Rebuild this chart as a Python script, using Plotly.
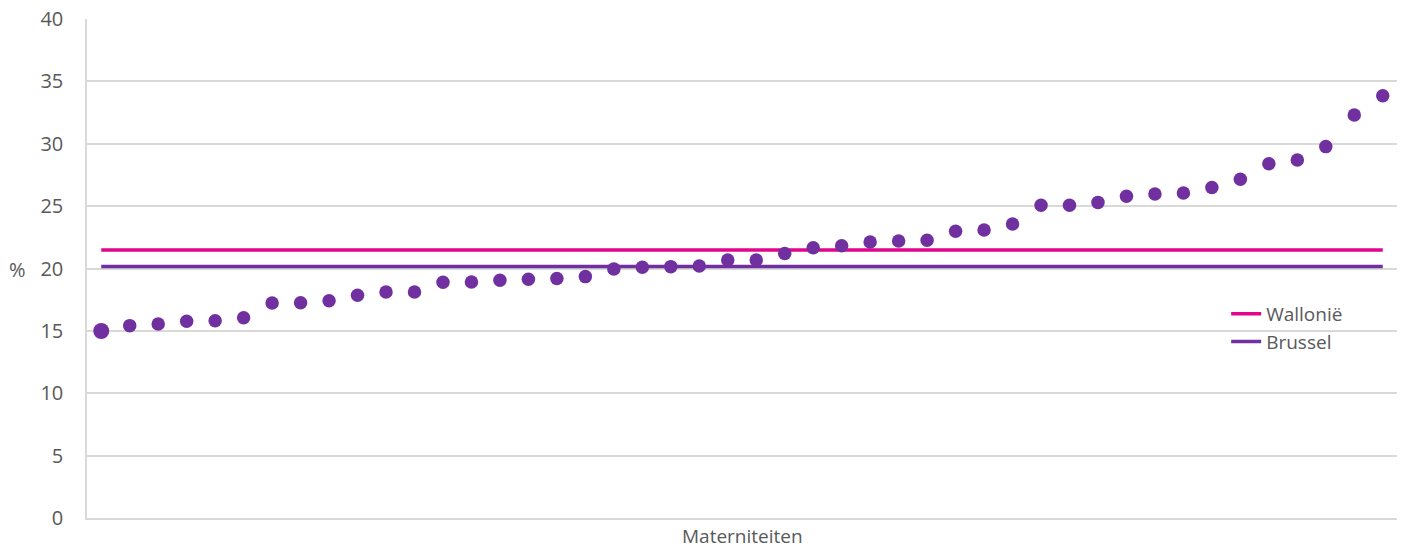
import plotly.graph_objects as go

maternities = list(range(1, 47))
values = [14.99, 15.42, 15.55, 15.77, 15.82, 16.06, 17.23, 17.26, 17.42, 17.85,
          18.12, 18.12, 18.9, 18.92, 19.05, 19.13, 19.19, 19.35, 19.96, 20.1,
          20.15, 20.2, 20.68, 20.68, 21.2, 21.67, 21.83, 22.13, 22.2, 22.26,
          22.98, 23.09, 23.57, 25.07, 25.07, 25.3, 25.8, 25.97, 26.05, 26.5,
          27.15, 28.4, 28.7, 29.77, 32.3, 33.85]
wallonie = 21.48
brussel = 20.16
y_ticks = [0, 5, 10, 15, 20, 25, 30, 35, 40]

FONT = "Open Sans"
GREY = "#595959"
PURPLE = "#7030A0"
MAGENTA = "#E0058C"

fig = go.Figure()
fig.add_trace(go.Scatter(x=maternities, y=[wallonie] * len(maternities), mode="lines",
                         name="Wallonië", line=dict(color=MAGENTA, width=3.5)))
fig.add_trace(go.Scatter(x=maternities, y=[brussel] * len(maternities), mode="lines",
                         name="Brussel", line=dict(color=PURPLE, width=3.5)))
sizes = [16] + [13.5] * (len(values) - 1)
fig.add_trace(go.Scatter(x=maternities, y=values, mode="markers", showlegend=False,
                         name="Materniteit",
                         marker=dict(color=PURPLE, size=sizes, opacity=1, line=dict(width=0))))

fig.update_layout(
    width=1403, height=549,
    margin=dict(l=87, r=6, t=19, b=31, autoexpand=False),
    paper_bgcolor="white", plot_bgcolor="white",
    font=dict(family=FONT, color=GREY, size=20),
    showlegend=True,
    legend=dict(x=0.8696, y=0.447, xanchor="left", yanchor="top",
                bgcolor="rgba(0,0,0,0)", font=dict(size=19, color=GREY),
                tracegroupgap=0),
    xaxis=dict(range=[0.5, 46.5], showticklabels=False, showgrid=False, zeroline=False,
               showline=True, linecolor="#d9d9d9", linewidth=1.5, ticks="",
               automargin=False),
    yaxis=dict(range=[0, 40], tickvals=y_ticks, showgrid=True, gridcolor="#d9d9d9",
               gridwidth=1.5, zeroline=False, showline=True, linecolor="#d9d9d9",
               linewidth=1.5, ticks="", ticklabelstandoff=18, automargin=False,
               tickfont=dict(size=20, color=GREY)),
    annotations=[
        dict(text="%", xref="paper", yref="y", x=-0.053, y=19.9,
             xanchor="center", yanchor="middle", showarrow=False,
             font=dict(size=20, color=GREY)),
        dict(text="Materniteiten", xref="paper", yref="paper", x=0.5, y=-0.037,
             xanchor="center", yanchor="middle", showarrow=False,
             font=dict(size=19, color=GREY)),
    ],
)

fig.write_html("out.html", config={"displayModeBar": False},
               post_script="document.body.style.margin='0px';document.body.style.overflow='hidden';")
